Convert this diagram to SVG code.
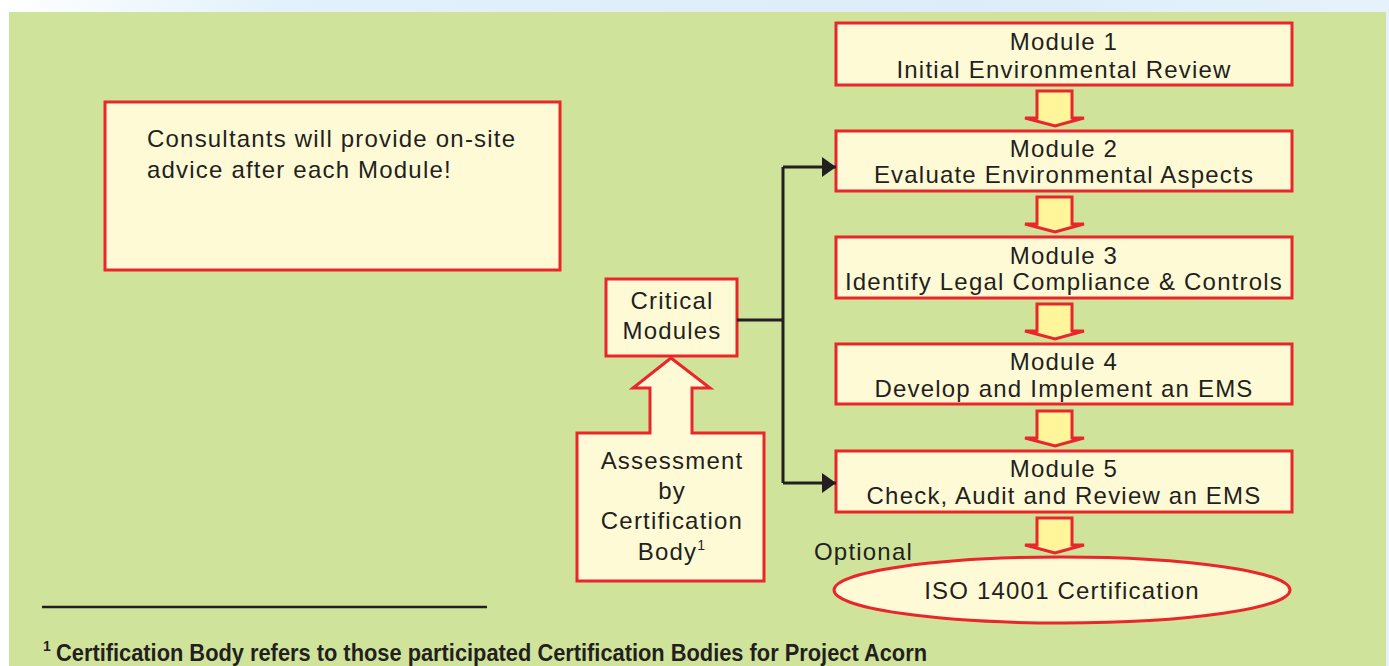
<svg xmlns="http://www.w3.org/2000/svg" width="1389" height="666" viewBox="0 0 1389 666">
<defs>
<linearGradient id="sky" x1="0" y1="0" x2="1" y2="0">
<stop offset="0" stop-color="#ffffff"/>
<stop offset="0.2" stop-color="#e2f1fb"/>
<stop offset="0.7" stop-color="#dcedf9"/>
<stop offset="1" stop-color="#e6f2fb"/>
</linearGradient>
<marker id="ah" markerWidth="14" markerHeight="20" refX="14" refY="10" orient="auto" markerUnits="userSpaceOnUse">
<path d="M0,0 L14,10 L0,20 Z" fill="#231f20"/>
</marker>
<style>
.box{fill:#fffad6;stroke:#e8262b;stroke-width:3}
.arr{fill:#fff59a;stroke:#e8262b;stroke-width:3;stroke-linejoin:miter}
.t{font-family:"Liberation Sans",Arial,sans-serif;font-size:24px;fill:#231f20;letter-spacing:1.2px}
.c{text-anchor:middle}
.conn{fill:none;stroke:#231f20;stroke-width:3}
.fn{font-family:"Liberation Sans",Arial,sans-serif;font-weight:bold;font-size:24px;fill:#231f20}
</style>
</defs>
<rect x="0" y="0" width="1389" height="666" fill="url(#sky)"/>
<rect x="9" y="12" width="1377" height="654" fill="#d0e39b"/>

<g id="consultants">
<rect class="box" x="105" y="102" width="455" height="168"/>
<text class="t" x="147" y="147">Consultants will provide on-site</text>
<text class="t" x="147" y="178">advice after each Module!</text>
</g>

<g id="module1">
<rect class="box" x="836" y="23" width="456" height="62"/>
<text class="t c" x="1064" y="50">Module 1</text>
<text class="t c" x="1064" y="78">Initial Environmental Review</text>
</g>
<g id="module2">
<rect class="box" x="836" y="131" width="456" height="60"/>
<text class="t c" x="1064" y="157">Module 2</text>
<text class="t c" x="1064" y="183">Evaluate Environmental Aspects</text>
</g>
<g id="module3">
<rect class="box" x="836" y="237" width="456" height="61"/>
<text class="t c" x="1064" y="264">Module 3</text>
<text class="t c" x="1064" y="290">Identify Legal Compliance &amp; Controls</text>
</g>
<g id="module4">
<rect class="box" x="836" y="344" width="456" height="60"/>
<text class="t c" x="1064" y="370">Module 4</text>
<text class="t c" x="1064" y="397">Develop and Implement an EMS</text>
</g>
<g id="module5">
<rect class="box" x="836" y="451" width="456" height="61"/>
<text class="t c" x="1064" y="477">Module 5</text>
<text class="t c" x="1064" y="504">Check, Audit and Review an EMS</text>
</g>
<g id="iso">
<ellipse class="box" cx="1062" cy="590" rx="228" ry="33"/>
<text class="t c" x="1062" y="599">ISO 14001 Certification</text>
</g>
<text id="optional" class="t" x="814" y="560">Optional</text>

<g id="critical">
<rect class="box" x="606" y="279" width="131" height="77"/>
<text class="t c" x="672" y="309">Critical</text>
<text class="t c" x="672" y="339">Modules</text>
</g>

<g id="assessment">
<path class="box" d="M577,433 L650,433 L650,388 L633,388 L671,358 L710,388 L692,388 L692,433 L764,433 L764,581 L577,581 Z"/>
<text class="t c" x="672" y="469">Assessment</text>
<text class="t c" x="672" y="499">by</text>
<text class="t c" x="672" y="529">Certification</text>
<text class="t c" x="672" y="560">Body<tspan font-size="14" dy="-10">1</tspan></text>
</g>

<g id="connectors">
<path class="arr" d="M1037,91 L1072,91 L1072,118 L1084,118 L1055,126 L1025,118 L1037,118 Z"/>
<path class="arr" d="M1037,197 L1072,197 L1072,224 L1084,224 L1055,232 L1025,224 L1037,224 Z"/>
<path class="arr" d="M1037,304 L1072,304 L1072,331 L1084,331 L1055,339 L1025,331 L1037,331 Z"/>
<path class="arr" d="M1037,411 L1072,411 L1072,438 L1084,438 L1055,446 L1025,438 L1037,438 Z"/>
<path class="arr" d="M1037,518 L1072,518 L1072,545 L1084,545 L1055,553 L1025,545 L1037,545 Z"/>
<path class="conn" d="M737,320 L783,320"/>
<path class="conn" d="M783,167 L783,483"/>
<path class="conn" d="M783,167 L836,167" marker-end="url(#ah)"/>
<path class="conn" d="M783,483 L836,483" marker-end="url(#ah)"/>
</g>

<g id="footnote">
<line x1="42" y1="607" x2="487" y2="607" stroke="#231f20" stroke-width="2.5"/>
<text class="fn" x="43" y="661"><tspan font-size="14" dy="-10">1</tspan><tspan dy="10" x="56" textLength="871" lengthAdjust="spacingAndGlyphs">Certification Body refers to those participated Certification Bodies for Project Acorn</tspan></text>
</g>
</svg>
